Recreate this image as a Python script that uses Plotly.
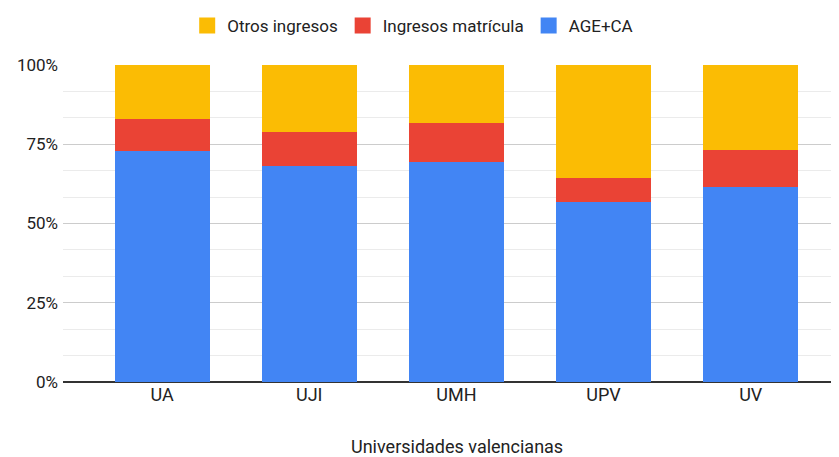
import plotly.graph_objects as go

universidades = ["UA", "UJI", "UMH", "UPV", "UV"]
age_ca = [72.8, 68.1, 69.4, 56.7, 61.5]
matricula = [10.3, 10.8, 12.3, 7.6, 11.7]
otros = [16.9, 21.1, 18.3, 35.7, 26.8]

series = [
    ("AGE+CA", age_ca, "#4285f4"),
    ("Ingresos matrícula", matricula, "#ea4335"),
    ("Otros ingresos", otros, "#fbbc04"),
]

fig = go.Figure()
for nombre, valores, color in series:
    fig.add_trace(
        go.Bar(
            x=universidades,
            y=[v / 100 for v in valores],
            name=nombre,
            marker=dict(color=color, line=dict(width=0)),
            width=0.646,
            showlegend=False,
        )
    )

# leyenda con cuadrados más grandes, como en el original
for nombre, valores, color in reversed(series):
    fig.add_trace(
        go.Scatter(
            x=[None],
            y=[None],
            mode="markers",
            name=nombre,
            marker=dict(symbol="square", size=16, color=color),
            hoverinfo="skip",
        )
    )

# la página añade 8px de margen al body: se compensa aquí
fig.update_layout(
    barmode="stack",
    width=831,
    height=449,
    margin=dict(l=55, r=0, t=57, b=75, autoexpand=False),
    paper_bgcolor="white",
    plot_bgcolor="white",
    font=dict(family="Roboto, Arial, sans-serif", size=17, color="#222222"),
    showlegend=True,
    legend=dict(
        orientation="h",
        traceorder="normal",
        xref="container",
        yref="container",
        x=0.487,
        xanchor="center",
        y=1.0,
        yanchor="top",
        font=dict(size=17),
        itemwidth=30,
        itemsizing="trace",
    ),
    xaxis=dict(
        range=[-0.673, 4.6],
        showgrid=False,
        ticks="",
        automargin=False,
        tickfont=dict(size=18),
    ),
    yaxis=dict(
        range=[0, 1],
        tickformat=".0%",
        dtick=0.25,
        tick0=0,
        gridcolor="#cccccc",
        gridwidth=1,
        zeroline=True,
        zerolinecolor="#333333",
        zerolinewidth=1.5,
        ticks="",
        automargin=False,
        ticklabelstandoff=4,
        minor=dict(dtick=1 / 12, tick0=0, showgrid=True, gridcolor="#ebebeb", gridwidth=1),
    ),
    annotations=[
        dict(
            text="Universidades valencianas",
            xref="paper",
            yref="paper",
            x=0.508,
            y=0,
            xanchor="center",
            yanchor="middle",
            yshift=-64,
            showarrow=False,
            font=dict(size=18),
        )
    ],
)

fig.write_html("out.html")
